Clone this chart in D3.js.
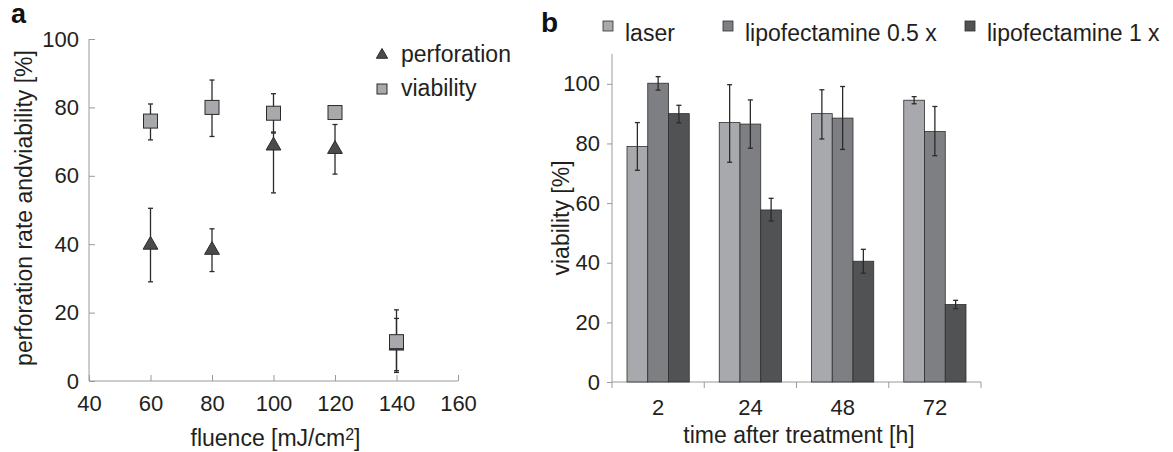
<!DOCTYPE html>
<html>
<head>
<meta charset="utf-8">
<script src="https://cdn.jsdelivr.net/npm/d3@7"></script>
<style>
	body { margin: 0; background: #fff; }
	svg { display: block; font-family: "Liberation Sans", Arial, sans-serif; }
	.axis path, .axis line { stroke: #9a9a9a; }
	.axis text { fill: #231f20; font-size: 22px; }
</style>
</head>
<body>
<div id="chart"></div>
<script>
// panel a: fluence sweep
var fluence = [60, 80, 100, 120, 140];
var perforation = [39.5, 38, 68.5, 67.5, 10];
var perforationErr = [[29, 50.5], [32, 44.5], [55, 72.8], [60.5, 75], [2.5, 18.3]];
var viability = [76, 80, 78.3, 78.5, 11.5];
var viabilityErr = [[70.5, 81], [71.5, 88], [72.5, 84], [78.3, 80.3], [3, 20.8]];
var fluenceTicks = [40, 60, 80, 100, 120, 140, 160];
var rateTicks = [0, 20, 40, 60, 80, 100];

// panel b: viability over time
var hours = ["2", "24", "48", "72"];
var groups = ["laser", "lipofectamine 0.5 x", "lipofectamine 1 x"];
var groupColors = ["#a8a9ad", "#7e7f83", "#515254"];
var laserVal = [79, 87, 90, 94.5];
var lipoHalfVal = [100.2, 86.5, 88.5, 84];
var lipoOneVal = [90, 57.7, 40.5, 26];
var laserErr = [[71, 87], [73.7, 99.7], [81.5, 98], [93.3, 95.7]];
var lipoHalfErr = [[97.9, 102.4], [78.4, 94.6], [78, 99.1], [75.9, 92.4]];
var lipoOneErr = [[86.9, 92.8], [54, 61.6], [36.5, 44.5], [24.6, 27.4]];
var viabTicks = [0, 20, 40, 60, 80, 100];

var W = 1173, H = 452;
var svg = d3.select("#chart").append("svg")
	.attr("width", W)
	.attr("height", H);

function errBars(g, pts, cap)
{
	var eb = g.append("g")
		.attr("stroke", "#2b2b2b")
		.attr("stroke-width", 1.3);
	pts.forEach(function(p)
	{
		eb.append("line").attr("x1", p.x).attr("x2", p.x).attr("y1", p.lo).attr("y2", p.hi);
		eb.append("line").attr("x1", p.x - cap).attr("x2", p.x + cap).attr("y1", p.lo).attr("y2", p.lo);
		eb.append("line").attr("x1", p.x - cap).attr("x2", p.x + cap).attr("y1", p.hi).attr("y2", p.hi);
	});
}

// ---------- panel a ----------
(function()
{
	var xS = d3.scaleLinear().domain([40, 160]).range([89, 458]);
	var yS = d3.scaleLinear().domain([0, 100]).range([381, 39]);
	var g = svg.append("g");

	g.append("g")
		.attr("class", "axis")
		.attr("transform", "translate(0," + yS(0) + ")")
		.call(d3.axisBottom(xS).tickValues(fluenceTicks).tickSizeInner(-6).tickSizeOuter(0).tickPadding(14))
		.call(function(a){ a.select(".domain").attr("d", "M" + xS(40) + ",0H" + xS(160)); });

	g.append("g")
		.attr("class", "axis")
		.attr("transform", "translate(" + xS(40) + ",0)")
		.call(d3.axisLeft(yS).tickValues(rateTicks).tickSizeInner(-6).tickSizeOuter(0).tickPadding(10))
		.call(function(a){ a.select(".domain").attr("d", "M0," + yS(0) + "V" + yS(100)); });

	g.selectAll(".axis").attr("font-size", null).attr("font-family", null);

	errBars(g, fluence.map(function(f, i){ return {x: xS(f), lo: yS(perforationErr[i][0]), hi: yS(perforationErr[i][1])}; }), 2.5);
	errBars(g, fluence.map(function(f, i){ return {x: xS(f), lo: yS(viabilityErr[i][0]), hi: yS(viabilityErr[i][1])}; }), 2.5);

	var tri = d3.symbol().type(d3.symbolTriangle).size(95);
	g.selectAll(".tri")
		.data(fluence)
		.enter().append("path")
			.attr("class", "tri")
			.attr("d", tri)
			.attr("transform", function(d, i){ return "translate(" + xS(d) + "," + (yS(perforation[i]) - 1) + ")"; })
			.attr("fill", "#4a4b4d")
			.attr("stroke", "#2b2b2b")
			.attr("stroke-width", 1);

	g.selectAll(".sq")
		.data(fluence)
		.enter().append("rect")
			.attr("class", "sq")
			.attr("x", function(d){ return xS(d) - 7; })
			.attr("y", function(d, i){ return yS(viability[i]) - 7; })
			.attr("width", 14)
			.attr("height", 14)
			.attr("fill", "#a8a9ad")
			.attr("stroke", "#2b2b2b")
			.attr("stroke-width", 1);

	// legend
	g.append("path")
		.attr("d", d3.symbol().type(d3.symbolTriangle).size(55))
		.attr("transform", "translate(382,55)")
		.attr("fill", "#4a4b4d").attr("stroke", "#2b2b2b");
	g.append("rect")
		.attr("x", 377).attr("y", 84).attr("width", 10).attr("height", 10)
		.attr("fill", "#a8a9ad").attr("stroke", "#2b2b2b");
	g.append("text").attr("x", 401).attr("y", 62).attr("font-size", 23).attr("fill", "#231f20").text("perforation");
	g.append("text").attr("x", 401).attr("y", 96).attr("font-size", 23).attr("fill", "#231f20").text("viability");

	g.append("text")
		.attr("transform", "translate(32,208) rotate(-90)")
		.attr("text-anchor", "middle")
		.attr("font-size", 23)
		.attr("fill", "#231f20")
		.text("perforation rate andviability [%]");

	var xl = g.append("text")
		.attr("x", xS(100) + 2)
		.attr("y", 446)
		.attr("text-anchor", "middle")
		.attr("font-size", 23)
		.attr("fill", "#231f20");
	xl.append("tspan").text("fluence [mJ/cm");
	xl.append("tspan").attr("font-size", 16).attr("dy", -6).text("2");
	xl.append("tspan").attr("dy", 6).text("]");

	g.append("text").attr("x", 11).attr("y", 23).attr("font-size", 27).attr("font-weight", "bold").attr("fill", "#111").text("a");
})();

// ---------- panel b ----------
(function()
{
	var x0 = d3.scaleBand().domain(hours).range([612, 981]).paddingInner(0).paddingOuter(0);
	var x1 = d3.scaleBand().domain(groups).range([15, x0.bandwidth() - 15]);
	var yS = d3.scaleLinear().domain([0, 110]).range([382, 54]);
	var g = svg.append("g");
	var vals = [laserVal, lipoHalfVal, lipoOneVal];
	var errs = [laserErr, lipoHalfErr, lipoOneErr];

	g.append("g")
		.attr("class", "axis")
		.attr("transform", "translate(0," + yS(0) + ")")
		.call(d3.axisBottom(x0).tickSize(0).tickPadding(17))
		.call(function(a)
		{
			a.select(".domain").attr("d", "M612,0H981");
			a.selectAll(".tk").data([612].concat(hours.map(function(h){ return x0(h) + x0.bandwidth(); })))
				.enter().append("line")
				.attr("class", "tk")
				.attr("x1", function(d){ return d; }).attr("x2", function(d){ return d; })
				.attr("y1", 0).attr("y2", 6);
		});

	g.append("g")
		.attr("class", "axis")
		.attr("transform", "translate(612,0)")
		.call(d3.axisLeft(yS).tickValues(viabTicks).tickSizeInner(5).tickSizeOuter(0).tickPadding(7))
		.call(function(a){ a.select(".domain").attr("d", "M0," + yS(0) + "V" + yS(110)); });

	g.selectAll(".axis").attr("font-size", null).attr("font-family", null);

	groups.forEach(function(grp, k)
	{
		g.selectAll(".bar" + k)
			.data(hours)
			.enter().append("rect")
				.attr("class", "bar" + k)
				.attr("x", function(h){ return x0(h) + x1(grp); })
				.attr("y", function(h, i){ return yS(vals[k][i]); })
				.attr("width", x1.bandwidth())
				.attr("height", function(h, i){ return yS(0) - yS(vals[k][i]); })
				.attr("fill", groupColors[k])
				.attr("stroke", "#2e2e2e")
				.attr("stroke-width", 0.8);
	});

	groups.forEach(function(grp, k)
	{
		errBars(g, hours.map(function(h, i){
			return {x: x0(h) + x1(grp) + x1.bandwidth() / 2, lo: yS(errs[k][i][0]), hi: yS(errs[k][i][1])};
		}), 2.5);
	});

	// legend
	var lx = [603, 723, 965];
	groups.forEach(function(grp, k)
	{
		g.append("rect")
			.attr("x", lx[k]).attr("y", 21).attr("width", 10).attr("height", 10)
			.attr("fill", groupColors[k]).attr("stroke", "#2e2e2e").attr("stroke-width", 0.8);
		g.append("text")
			.attr("x", lx[k] + 22).attr("y", 41)
			.attr("font-size", 23).attr("fill", "#231f20")
			.text(grp);
	});

	g.append("text")
		.attr("transform", "translate(569,218) rotate(-90)")
		.attr("text-anchor", "middle")
		.attr("font-size", 23)
		.attr("fill", "#231f20")
		.text("viability [%]");

	g.append("text")
		.attr("x", 799)
		.attr("y", 443)
		.attr("text-anchor", "middle")
		.attr("font-size", 23)
		.attr("fill", "#231f20")
		.text("time after treatment [h]");

	g.append("text").attr("x", 541).attr("y", 32).attr("font-size", 28).attr("font-weight", "bold").attr("fill", "#111").text("b");
})();
</script>
</body>
</html>
